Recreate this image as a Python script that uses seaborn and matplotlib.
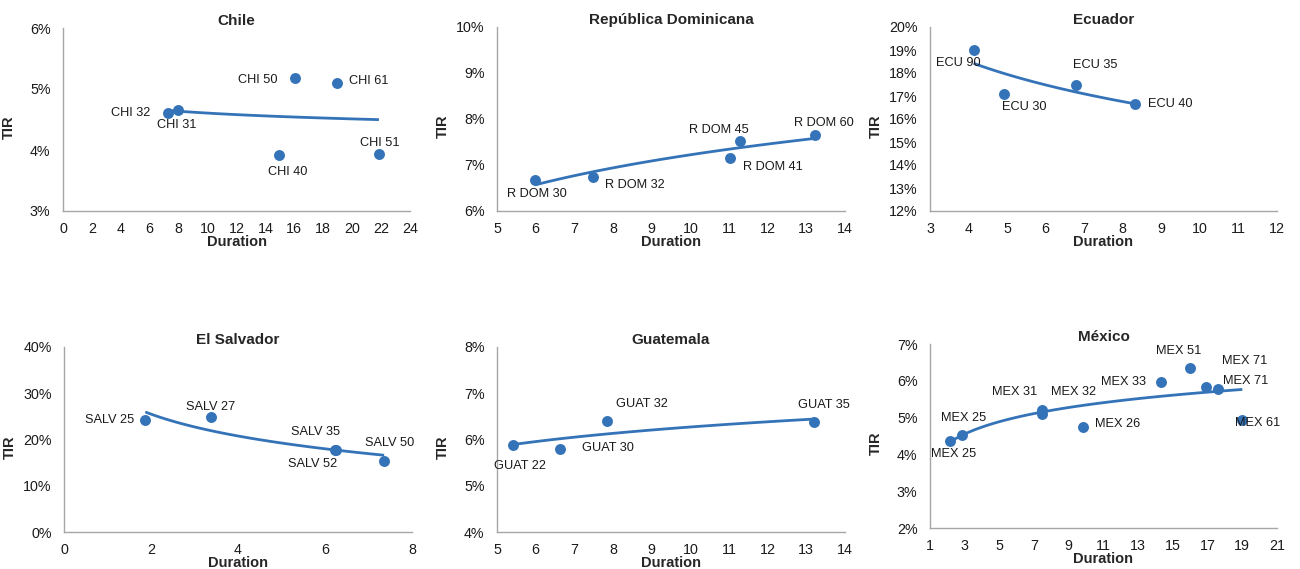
import matplotlib
matplotlib.use("Agg")
import matplotlib.pyplot as plt
import seaborn as sns
import pandas as pd
from matplotlib.ticker import FuncFormatter, MultipleLocator

# ---- data: duration (years) vs. yield (TIR, %) per bond ----
chile_labels = ["CHI 32", "CHI 31", "CHI 50", "CHI 61", "CHI 40", "CHI 51"]
chile_duration = [7.24, 7.97, 16.07, 18.97, 14.96, 21.85]
chile_tir = [4.60, 4.65, 5.18, 5.10, 3.92, 3.94]

rdom_labels = ["R DOM 30", "R DOM 32", "R DOM 41", "R DOM 45", "R DOM 60"]
rdom_duration = [5.98, 7.47, 11.03, 11.29, 13.23]
rdom_tir = [6.67, 6.73, 7.15, 7.52, 7.65]

ecu_labels = ["ECU 90", "ECU 30", "ECU 35", "ECU 40"]
ecu_duration = [4.13, 4.92, 6.79, 8.32]
ecu_tir = [19.00, 17.08, 17.50, 16.65]

salv_labels = ["SALV 25", "SALV 27", "SALV 35", "SALV 52", "SALV 50"]
salv_duration = [1.87, 3.37, 6.24, 6.26, 7.36]
salv_tir = [24.3, 24.8, 17.8, 17.7, 15.3]

guat_labels = ["GUAT 22", "GUAT 30", "GUAT 32", "GUAT 35"]
guat_duration = [5.42, 6.62, 7.85, 13.20]
guat_tir = [5.89, 5.80, 6.41, 6.37]

mex_labels = ["MEX 25", "MEX 25", "MEX 31", "MEX 32", "MEX 26", "MEX 33",
              "MEX 51", "MEX 71", "MEX 71", "MEX 61"]
mex_duration = [2.15, 2.87, 7.45, 7.43, 9.84, 14.30, 16.01, 16.88, 17.59, 19.00]
mex_tir = [4.37, 4.54, 5.22, 5.11, 4.74, 5.98, 6.36, 5.84, 5.79, 4.94]

# ---- panel settings: axes box in pixels (left, top, right, bottom), limits, steps ----
panels = [
    dict(title="Chile", x=chile_duration, y=chile_tir, lab=chile_labels,
         box=(63, 28, 410, 211), xlim=(0, 24), xstep=2, ylim=(3, 6), ystep=1,
         offs=[(-17, 0, "right"), (-2, 15, "center"), (-18, 2, "right"),
               (12, -2, "left"), (8, 17, "center"), (1, -11, "center")]),
    dict(title="República Dominicana", x=rdom_duration, y=rdom_tir, lab=rdom_labels,
         box=(497, 27, 845, 211), xlim=(5, 14), xstep=1, ylim=(6, 10), ystep=1,
         offs=[(2, 14, "center"), (12, 8, "left"), (13, 9, "left"),
               (-21, -11, "center"), (9, -12, "center")]),
    dict(title="Ecuador", x=ecu_duration, y=ecu_tir, lab=ecu_labels,
         box=(930, 27, 1277, 211), xlim=(3, 12), xstep=1, ylim=(12, 20), ystep=1,
         offs=[(-15, 13, "center"), (20, 13, "center"), (19, -19, "center"),
               (13, 0, "left")]),
    dict(title="El Salvador", x=salv_duration, y=salv_tir, lab=salv_labels,
         box=(64, 347, 412, 532), xlim=(0, 8), xstep=2, ylim=(0, 40), ystep=10,
         offs=[(-11, 0, "right"), (0, -10, "center"), (-20, -18, "center"),
               (-24, 14, "center"), (5, -18, "center")]),
    dict(title="Guatemala", x=guat_duration, y=guat_tir, lab=guat_labels,
         box=(497, 347, 845, 532), xlim=(5, 14), xstep=1, ylim=(4, 8), ystep=1,
         offs=[(7, 21, "center"), (22, -1, "left"), (9, -17, "left"),
               (10, -17, "center")]),
    dict(title="México", x=mex_duration, y=mex_tir, lab=mex_labels,
         box=(930, 344, 1277, 528), xlim=(1, 21), xstep=2, ylim=(2, 7), ystep=1,
         offs=[(4, 13, "center"), (1, -17, "center"), (-27, -18, "center"),
               (32, -22, "center"), (12, -3, "left"), (-15, 0, "right"),
               (-12, -17, "center"), (39, -26, "center"), (5, -8, "left"),
               (15, 3, "center")]),
]

BLUE = "#3473b7"
W, H = 1300, 569

sns.set_theme(style="white")
plt.rcParams["font.family"] = ["Liberation Sans", "DejaVu Sans"]

fig = plt.figure(figsize=(W / 100, H / 100), dpi=100)

for p in panels:
    l, t, r, b = p["box"]
    ax = fig.add_axes([l / W, 1 - b / H, (r - l) / W, (b - t) / H])
    df = pd.DataFrame({"Duration": p["x"], "TIR": p["y"], "bond": p["lab"]})

    sns.regplot(data=df, x="Duration", y="TIR", logx=True, ci=None,
                scatter=False, truncate=True, ax=ax,
                line_kws=dict(color=BLUE, lw=2.0, solid_capstyle="butt"))
    sns.scatterplot(data=df, x="Duration", y="TIR", color=BLUE, s=62,
                    linewidth=0, zorder=3, ax=ax)

    for (xv, yv, name), (dx, dy, ha) in zip(zip(p["x"], p["y"], p["lab"]), p["offs"]):
        ax.annotate(name, (xv, yv), xytext=(dx, -dy), textcoords="offset pixels",
                    ha=ha, va="center", fontsize=9.2, color="#1a1a1a", zorder=4)

    x0, x1 = p["xlim"]
    ax.set_xlim(x0, x1)
    ax.set_ylim(*p["ylim"])
    # ticks start at the left limit (odd values for México)
    ax.xaxis.set_major_locator(MultipleLocator(p["xstep"], offset=x0 % p["xstep"]))
    ax.yaxis.set_major_locator(MultipleLocator(p["ystep"]))
    ax.yaxis.set_major_formatter(FuncFormatter(lambda v, _: f"{v:.0f}%"))
    ax.tick_params(length=0, labelsize=10.3, colors="#1a1a1a")
    ax.tick_params(axis="y", pad=9)
    ax.tick_params(axis="x", pad=8)

    for side in ("top", "right"):
        ax.spines[side].set_visible(False)
    for side in ("left", "bottom"):
        ax.spines[side].set_color("#a6a6a6")
        ax.spines[side].set_linewidth(1.0)

    ax.set_title(p["title"], fontsize=11, fontweight="bold", pad=2)
    ax.set_xlabel("Duration", fontsize=10.5, fontweight="bold", labelpad=-0.5)
    ax.set_ylabel("TIR", fontsize=10.5, fontweight="bold")
    ax.yaxis.set_label_coords(-47 / (r - l), 0.46)

fig.savefig("out.png", dpi=100, facecolor="white")
